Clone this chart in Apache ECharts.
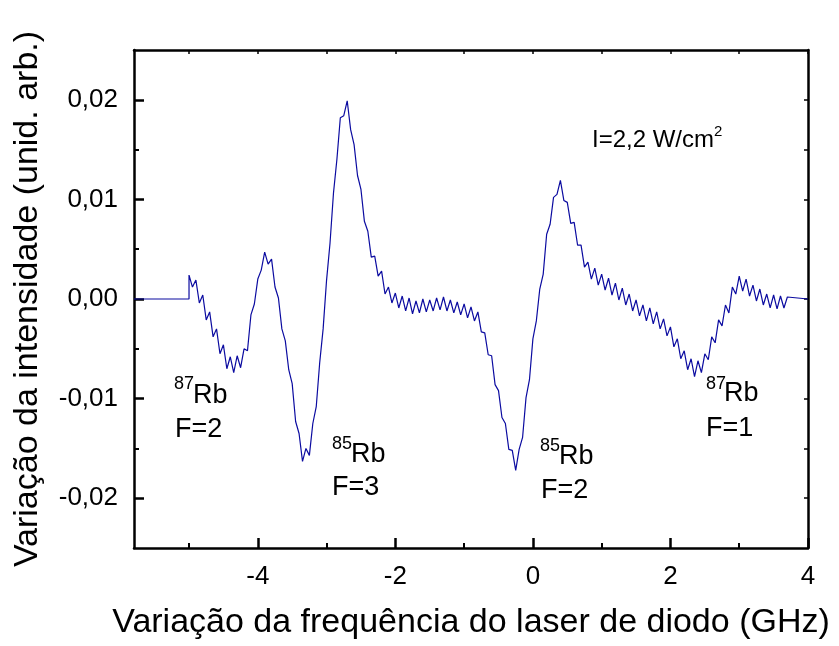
<!DOCTYPE html>
<html>
<head>
<meta charset="utf-8">
<script src="https://cdn.jsdelivr.net/npm/echarts@6/dist/echarts.min.js"></script>
<style>html,body{margin:0;padding:0;background:#fff}#c{width:839px;height:646px}</style>
</head>
<body>
<div id="c"></div>
<script>
// Tick labels / ticks
var xMajorTicks = [-4, -2, 0, 2, 4];
var xMinorTicks = [-5, -3, -1, 1, 3];
var xTopTicks = [-5, -4, -3, -2, -1, 0, 1, 2, 3, 4];
var yMajorTicks = [-0.02, -0.01, 0, 0.01, 0.02];
var yMinorTicks = [-0.015, -0.005, 0.005, 0.015];
var yRightTicks = [-0.02, -0.015, -0.01, -0.005, 0, 0.005, 0.01, 0.015, 0.02];
var xTitle = 'Variação da frequência do laser de diodo (GHz)';
var yTitle = 'Variação da intensidade (unid. arb.)';
var intensityLabel = 'I=2,2 W/cm';

// Signal trace: [frequency (GHz), intensity variation]
var trace = [
[-5.80,0],[-5.00,0],[-5.00,0.0024],[-4.95,0.0012],[-4.90,0.0019],[-4.85,-0.0004],[-4.80,0.0004],
[-4.75,-0.0021],[-4.70,-0.0013],[-4.65,-0.0038],[-4.60,-0.0030],[-4.55,-0.0055],[-4.50,-0.0046],
[-4.45,-0.0070],[-4.40,-0.0058],[-4.35,-0.0074],[-4.30,-0.0057],[-4.25,-0.0069],[-4.20,-0.0050],
[-4.15,-0.0052],[-4.10,-0.0016],[-4.05,-0.0005],[-4.00,0.0020],[-3.95,0.0029],[-3.90,0.0047],
[-3.85,0.0035],[-3.80,0.0040],[-3.75,0.0012],[-3.70,0.0001],[-3.65,-0.0030],[-3.60,-0.0042],
[-3.55,-0.0071],[-3.50,-0.0085],[-3.45,-0.0123],[-3.40,-0.0135],[-3.35,-0.0163],[-3.30,-0.0150],
[-3.25,-0.0157],[-3.20,-0.0125],[-3.15,-0.0108],[-3.10,-0.0064],[-3.05,-0.0030],[-3.00,0.0019],
[-2.95,0.0056],[-2.90,0.0106],[-2.85,0.0140],[-2.80,0.0182],[-2.75,0.0184],[-2.70,0.0199],
[-2.65,0.0170],[-2.60,0.0155],[-2.55,0.0124],[-2.50,0.0110],[-2.45,0.0078],[-2.40,0.0068],
[-2.35,0.0042],[-2.30,0.0043],[-2.25,0.0023],[-2.20,0.0028],[-2.15,0.0005],[-2.10,0.0012],
[-2.05,-0.0004],[-2.00,0.0006],[-1.95,-0.0009],[-1.90,0.0003],[-1.85,-0.0012],[-1.80,0.0001],
[-1.75,-0.0015],[-1.70,-0.0002],[-1.65,-0.0014],[-1.60,0.0000],[-1.55,-0.0013],[-1.50,-0.0001],
[-1.45,-0.0012],[-1.40,0.0001],[-1.35,-0.0011],[-1.30,0.0002],[-1.25,-0.0012],[-1.20,-0.0001],
[-1.15,-0.0014],[-1.10,-0.0003],[-1.05,-0.0016],[-1.00,-0.0005],[-0.95,-0.0019],[-0.90,-0.0008],
[-0.85,-0.0022],[-0.80,-0.0013],[-0.75,-0.0033],[-0.70,-0.0034],[-0.65,-0.0056],[-0.60,-0.0057],
[-0.55,-0.0086],[-0.50,-0.0092],[-0.45,-0.0119],[-0.40,-0.0125],[-0.35,-0.0151],[-0.30,-0.0152],
[-0.25,-0.0172],[-0.20,-0.0151],[-0.15,-0.0139],[-0.10,-0.0099],[-0.05,-0.0081],[0.00,-0.0040],
[0.05,-0.0022],[0.10,0.0010],[0.15,0.0025],[0.20,0.0065],[0.25,0.0075],[0.30,0.0102],
[0.35,0.0105],[0.40,0.0119],[0.45,0.0099],[0.50,0.0097],[0.55,0.0076],[0.60,0.0077],
[0.65,0.0054],[0.70,0.0054],[0.75,0.0032],[0.80,0.0037],[0.85,0.0020],[0.90,0.0031],
[0.95,0.0014],[1.00,0.0025],[1.05,0.0009],[1.10,0.0021],[1.15,0.0004],[1.20,0.0016],
[1.25,-0.0001],[1.30,0.0011],[1.35,-0.0006],[1.40,0.0005],[1.45,-0.0012],[1.50,-0.0001],
[1.55,-0.0017],[1.60,-0.0006],[1.65,-0.0022],[1.70,-0.0009],[1.75,-0.0025],[1.80,-0.0013],
[1.85,-0.0030],[1.90,-0.0020],[1.95,-0.0037],[2.00,-0.0028],[2.05,-0.0048],[2.10,-0.0040],
[2.15,-0.0060],[2.20,-0.0052],[2.25,-0.0071],[2.30,-0.0060],[2.35,-0.0078],[2.40,-0.0062],
[2.45,-0.0074],[2.50,-0.0055],[2.55,-0.0061],[2.60,-0.0038],[2.65,-0.0044],[2.70,-0.0021],
[2.75,-0.0027],[2.80,-0.0006],[2.85,-0.0014],[2.90,0.0012],[2.95,0.0005],[3.00,0.0023],
[3.05,0.0008],[3.10,0.0020],[3.15,0.0003],[3.20,0.0014],[3.25,-0.0002],[3.30,0.0010],
[3.35,-0.0006],[3.40,0.0005],[3.45,-0.0009],[3.50,0.0004],[3.55,-0.0010],[3.60,0.0003],
[3.65,-0.0009],[3.70,0.0002],[3.70,0],[4.00,0]
];

var FONT = '"Liberation Sans", Arial, sans-serif';
var chart = echarts.init(document.getElementById('c'), null, {renderer: 'canvas'});

function yFmt(v) { return (Math.abs(v) < 1e-9 ? 0 : v).toFixed(2).replace('.', ','); }
function txt(t, x, y, size, align) {
  return {type: 'text', silent: true, style: {text: t, x: x, y: y, font: size + 'px ' + FONT, fill: '#000',
    textAlign: align || 'left', align: align || 'left', textVerticalAlign: 'middle', verticalAlign: 'middle'}};
}

var lineStyle = {color: '#000', width: 2.5};
var option = {
  animation: false,
  backgroundColor: '#fff',
  grid: {left: 134, right: 31, top: 50, bottom: 98, containLabel: false, outerBoundsMode: 'none'},
  xAxis: [
    {type: 'value', gridIndex: 0, position: 'bottom', min: -5.8, max: 4.0,
     axisLine: {show: true, onZero: false, lineStyle: lineStyle},
     axisTick: {show: true, inside: true, length: 10, customValues: xMajorTicks, lineStyle: {color: '#000', width: 2.5}},
     axisLabel: {show: true, customValues: xMajorTicks, margin: 16, fontSize: 26, fontFamily: FONT, color: '#000',
       formatter: function (v) { return String(v); }},
     splitLine: {show: false},
     name: xTitle, nameLocation: 'middle', nameGap: 58, nameTextStyle: {fontSize: 34, fontFamily: FONT, color: '#000'}},
    {type: 'value', gridIndex: 0, position: 'bottom', min: -5.8, max: 4.0,
     axisLine: {show: false, onZero: false},
     axisTick: {show: true, inside: true, length: 5, customValues: xMinorTicks, lineStyle: {color: '#000', width: 2}},
     axisLabel: {show: false}, splitLine: {show: false}},
    {type: 'value', gridIndex: 0, position: 'top', min: -5.8, max: 4.0,
     axisLine: {show: true, onZero: false, lineStyle: lineStyle},
     axisTick: {show: true, inside: true, length: 4, customValues: xTopTicks, lineStyle: {color: '#000', width: 1.5}},
     axisLabel: {show: false}, splitLine: {show: false}}
  ],
  yAxis: [
    {type: 'value', gridIndex: 0, position: 'left', min: -0.025, max: 0.025,
     axisLine: {show: true, onZero: false, lineStyle: lineStyle},
     axisTick: {show: true, inside: true, length: 10, customValues: yMajorTicks, lineStyle: {color: '#000', width: 2.5}},
     axisLabel: {show: true, customValues: yMajorTicks, margin: 16, fontSize: 26, fontFamily: FONT, color: '#000', formatter: yFmt},
     splitLine: {show: false},
     name: yTitle, nameLocation: 'middle', nameGap: 89, nameRotate: 90, nameTextStyle: {fontSize: 34, fontFamily: FONT, color: '#000'}},
    {type: 'value', gridIndex: 0, position: 'left', min: -0.025, max: 0.025,
     axisLine: {show: false, onZero: false},
     axisTick: {show: true, inside: true, length: 5, customValues: yMinorTicks, lineStyle: {color: '#000', width: 2}},
     axisLabel: {show: false}, splitLine: {show: false}},
    {type: 'value', gridIndex: 0, position: 'right', min: -0.025, max: 0.025,
     axisLine: {show: true, onZero: false, lineStyle: lineStyle},
     axisTick: {show: true, inside: true, length: 4, customValues: yRightTicks, lineStyle: {color: '#000', width: 1.5}},
     axisLabel: {show: false}, splitLine: {show: false}}
  ],
  series: [{
    type: 'line', xAxisIndex: 0, yAxisIndex: 0, data: trace, showSymbol: false, symbol: 'none',
    lineStyle: {color: '#0b0ba0', width: 1.2}, z: 1
  }],
  graphic: [
    txt('87', 174, 384, 18), txt('Rb', 193, 396, 27), txt('F=2', 175, 430, 27),
    txt('85', 332, 444, 18), txt('Rb', 351, 455, 27), txt('F=3', 332, 488, 27),
    txt('85', 540, 446, 18), txt('Rb', 559, 457, 27), txt('F=2', 541, 491, 27),
    txt('87', 706, 384, 18), txt('Rb', 724, 394, 27), txt('F=1', 706, 429, 27),
    txt(intensityLabel, 592, 140, 24), txt('2', 714, 132, 15)
  ]
};
chart.setOption(option);
</script>
</body>
</html>
